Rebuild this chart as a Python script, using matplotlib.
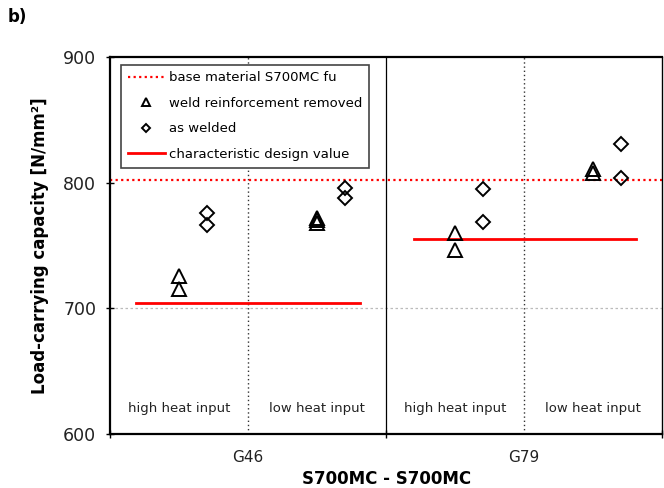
import matplotlib.pyplot as plt
import numpy as np

# Test results, grouped by weld series / heat input
groups = ["G46 high", "G46 low", "G79 high", "G79 low"]
removed = [[726, 715], [772, 770, 768], [760, 746], [811, 808]]
as_welded = [[776, 766], [796, 788], [795, 769], [831, 804]]
design_value = {"G46": 704, "G79": 755}
base_fu = 802

tick_labels = ["G46", "G79"]
heat_labels = ["high heat input", "low heat input", "high heat input", "low heat input"]

fig, ax = plt.subplots(figsize=(6.64, 4.88), dpi=100)
fig.subplots_adjust(left=0.166, right=0.997, bottom=0.111, top=0.883)

ax.set_xlim(0, 4)
ax.set_ylim(600, 900)

# grid / separators
ax.axhline(700, color="#bbbbbb", ls=(0, (2, 2)), lw=0.9, zorder=0)
ax.axvline(1, color="#333333", ls=(0, (1, 2)), lw=1.0, zorder=0)
ax.axvline(3, color="#333333", ls=(0, (1, 2)), lw=1.0, zorder=0)
ax.axvline(2, color="black", lw=0.9, zorder=0)

ax.axhline(base_fu, color="red", ls=(0, (1, 1.5)), lw=1.6,
           label="base material S700MC fu", zorder=1)

for i, (tri, dia) in enumerate(zip(removed, as_welded)):
    ax.plot([i + 0.5] * len(tri), tri, ls="none", marker="^", ms=10,
            mfc="none", mec="black", mew=1.4, zorder=3,
            label="weld reinforcement removed" if i == 0 else None)
    ax.plot([i + 0.7] * len(dia), dia, ls="none", marker="D", ms=7,
            mfc="none", mec="black", mew=1.4, zorder=3,
            label="as welded" if i == 0 else None)

ax.plot([0.19, 1.81], [design_value["G46"]] * 2, color="red", lw=2,
        label="characteristic design value", zorder=2)
ax.plot([2.2, 3.81], [design_value["G79"]] * 2, color="red", lw=2, zorder=2)

for i, txt in enumerate(heat_labels):
    ax.text(i + 0.5, 620, txt, ha="center", va="center", fontsize=9.5,
            color="#222222")

ax.set_xticks([0, 2, 4])
ax.set_xticklabels([])
ax.set_xticks([1, 3], minor=True)
ax.set_xticklabels(tick_labels, minor=True, fontsize=11, color="#222222")
ax.tick_params(axis="x", which="minor", length=0, pad=12)
ax.tick_params(axis="x", which="major", length=6, direction="inout", width=1)
ax.set_yticks([600, 700, 800, 900])
ax.tick_params(axis="y", labelsize=12.5, length=6, direction="inout", width=1,
               pad=7, labelcolor="#222222")

for s in ax.spines.values():
    s.set_linewidth(1.0)
ax.spines["top"].set_linewidth(1.6)
ax.spines["left"].set_linewidth(1.6)
ax.spines["bottom"].set_linewidth(1.6)

ax.set_ylabel("Load-carrying capacity [N/mm²]", fontsize=12, fontweight="bold",
              labelpad=10)
ax.set_xlabel("S700MC - S700MC", fontsize=12, fontweight="bold", labelpad=3)

leg = ax.legend(loc="upper left", bbox_to_anchor=(0.008, 0.997), fontsize=9.5,
                frameon=True, fancybox=False, edgecolor="#444444",
                markerscale=0.6, handlelength=2.8, handletextpad=0.35,
                borderpad=0.5, labelspacing=0.95, framealpha=1)
leg.get_frame().set_linewidth(1.2)

fig.text(0.012, 0.955, "b)", fontsize=12, fontweight="bold")

fig.savefig("out.png", dpi=100)
